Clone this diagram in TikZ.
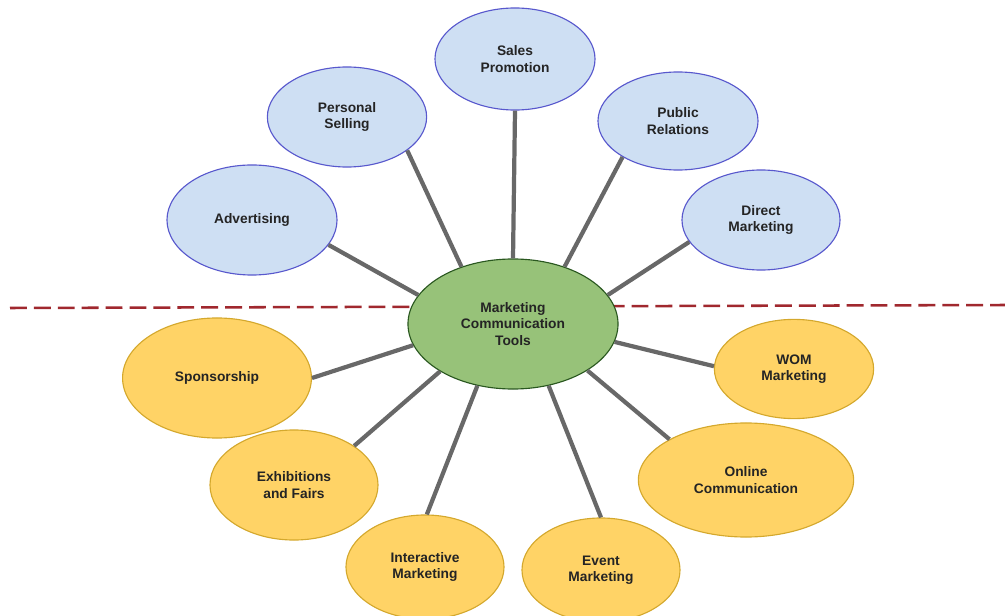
\documentclass[tikz,border=0pt]{standalone}
\usepackage{fontspec}
\setmainfont{Liberation Sans}
\usetikzlibrary{shapes,calc}
\definecolor{upperfill}{RGB}{206,223,243}
\definecolor{upperline}{RGB}{88,88,205}
\definecolor{lowerfill}{RGB}{255,211,102}
\definecolor{lowerline}{RGB}{212,168,45}
\definecolor{hubfill}{RGB}{151,194,121}
\definecolor{hubline}{RGB}{42,88,32}
\definecolor{linkgray}{RGB}{104,104,104}
\definecolor{dividerred}{RGB}{160,40,46}
\definecolor{labelgray}{RGB}{36,36,36}

\begin{document}
\begin{tikzpicture}[
  x=0.025cm, y=-0.025cm,
  tool/.style={
    ellipse,
    draw=#1line,
    fill=#1fill,
    line width=0.8pt,
    inner sep=0pt,
    align=center,
    text=labelgray,
    font=\fontsize{9.8}{11.6}\selectfont\bfseries
  },
  link/.style={
    draw=linkgray,
    line width=3pt
  },
  divider/.style={
    draw=dividerred,
    line width=1.8pt,
    dash pattern=on 12pt off 5pt
  }
]
\useasboundingbox (0,0) rectangle (1005,616);

% -------- Divider --------
\coordinate (dl) at (10,308);
\coordinate (dr) at (1005,305);
\draw[divider] (dl) -- (dr);

% -------- Hub --------
\node[tool=hub, minimum width=5.25cm, minimum height=3.25cm] (hub) at (513,324)
{Marketing\\Communication\\Tools};

% -------- Upper tools --------
\node[tool=upper, minimum width=4.25cm, minimum height=2.75cm] (adv) at (252,220)
{Advertising};

\node[tool=upper, minimum width=3.98cm, minimum height=2.5cm] (pers) at (347,117)
{Personal\\Selling};

\node[tool=upper, minimum width=4cm, minimum height=2.55cm] (sales) at (515,59)
{Sales\\Promotion};

\node[tool=upper, minimum width=4cm, minimum height=2.45cm] (pub) at (678,121)
{Public\\Relations};

\node[tool=upper, minimum width=3.95cm, minimum height=2.5cm] (dir) at (761,220)
{Direct\\Marketing};

% -------- Lower tools --------
\node[tool=lower, minimum width=4.72cm, minimum height=3cm] (spons) at (217,378)
{Sponsorship};

\node[tool=lower, minimum width=4.2cm, minimum height=2.75cm] (exh) at (294,485)
{Exhibitions\\and Fairs};

\node[tool=lower, minimum width=3.95cm, minimum height=2.6cm] (inter) at (425,567)
{Interactive\\Marketing};

\node[tool=lower, minimum width=3.95cm, minimum height=2.6cm] (event) at (601,570)
{Event\\Marketing};

\node[tool=lower, minimum width=5.38cm, minimum height=2.85cm] (online) at (746,480)
{Online\\Communication};

\node[tool=lower, minimum width=3.98cm, minimum height=2.48cm] (wom) at (794,369)
{WOM\\Marketing};

% -------- Links --------
\draw[link] (hub.163) -- (adv.-18);
\draw[link] (hub.132) -- (pers.-29);
\draw[link] (hub.90)  -- (sales.-90);
\draw[link] (hub.48)  -- (pub.213);
\draw[link] (hub.17)  -- (dir.197);
\draw[link] (hub.192) -- (spons.0);
\draw[link] (hub.213) -- (exh.33);
\draw[link] (hub.240) -- (inter.88);
\draw[link] (hub.300) -- (event.90);
\draw[link] (hub.-32) -- (online.152);
\draw[link] (hub.-10) -- (wom.178);

\end{tikzpicture}
\end{document}
